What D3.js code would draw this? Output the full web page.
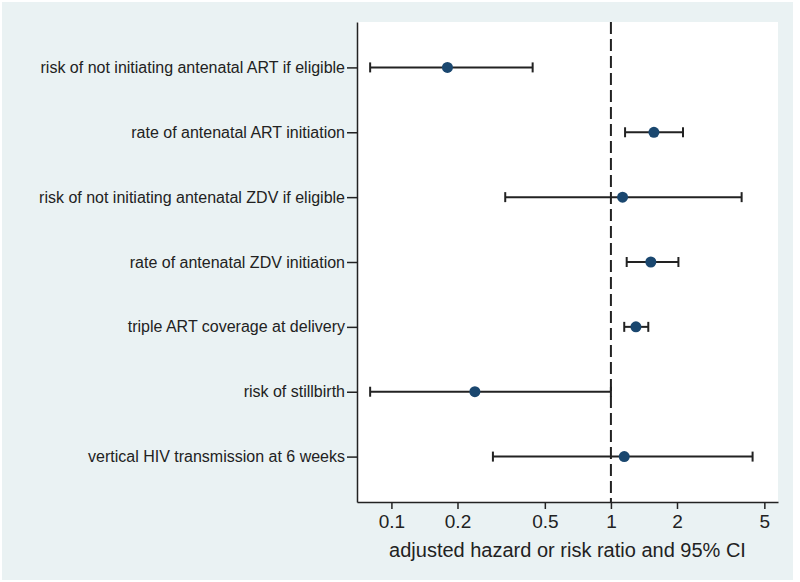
<!DOCTYPE html>
<html>
<head>
<meta charset="utf-8">
<script src="https://cdn.jsdelivr.net/npm/d3@7"></script>
<style>
  body { margin: 0; background: #fff; }
  svg { display: block; font-family: "Liberation Sans", Arial, sans-serif; }
</style>
</head>
<body>
<div id="chart"></div>
<script>
// Data
const outcomes = [
  "risk of not initiating antenatal ART if eligible",
  "rate of antenatal ART initiation",
  "risk of not initiating antenatal ZDV if eligible",
  "rate of antenatal ZDV initiation",
  "triple ART coverage at delivery",
  "risk of stillbirth",
  "vertical HIV transmission at 6 weeks"
]
const estimates = [0.18, 1.57, 1.13, 1.52, 1.30, 0.24, 1.15]
const lowerCI = [0.080, 1.16, 0.33, 1.18, 1.15, 0.080, 0.29]
const upperCI = [0.44, 2.13, 3.94, 2.03, 1.48, 1.00, 4.42]
const xTicks = [0.1, 0.2, 0.5, 1, 2, 5]
const xTitle = "adjusted hazard or risk ratio and 95% CI"

// Dimensions
const width = 800
const height = 582
const plot = {left: 357, top: 22, right: 778, bottom: 502}
const markerColor = "#1a476f"
const inkColor = "#222"

const svg = d3.select("#chart")
  .append("svg")
    .attr("width", width)
    .attr("height", height)

// Graph region background
svg.append("rect")
    .attr("x", 2)
    .attr("y", 2)
    .attr("width", 791)
    .attr("height", 578)
    .attr("fill", "#eaf2f3")

// Plot region
svg.append("rect")
    .attr("x", plot.left)
    .attr("y", plot.top)
    .attr("width", plot.right - plot.left)
    .attr("height", plot.bottom - plot.top)
    .attr("fill", "#fff")

// Scales
const xScale = d3.scaleLog()
    .domain([0.0697, 5.77])
    .range([plot.left, plot.right])

const yScale = d3.scaleLinear()
    .domain([0.3, outcomes.length + 0.7])
    .range([plot.top, plot.bottom])

const rows = outcomes.map(function(d, i) {
  return {label: d, pos: i + 1, est: estimates[i], lo: lowerCI[i], hi: upperCI[i]}
})

// Reference line at 1
svg.append("line")
    .attr("x1", xScale(1))
    .attr("x2", xScale(1))
    .attr("y1", plot.top)
    .attr("y2", plot.bottom)
    .attr("stroke", inkColor)
    .attr("stroke-width", 2)
    .attr("stroke-dasharray", "12,5")

// X-axis
const xAxis = svg.append("g")
    .attr("class", "x-axis")
    .attr("transform", `translate(0,${plot.bottom})`)
    .call(
      d3.axisBottom(xScale)
        .tickValues(xTicks)
        .tickSizeInner(7)
        .tickSizeOuter(0)
        .tickPadding(5.5)
        .tickFormat(function(d) { return String(d) }))

xAxis.select(".domain")
    .attr("stroke", inkColor)
    .attr("stroke-width", 1.5)
xAxis.selectAll(".tick line")
    .attr("stroke", inkColor)
    .attr("stroke-width", 1.5)
xAxis.selectAll(".tick text")
    .attr("fill", inkColor)
    .style("font-size", "19px")
    .style("font-family", "Liberation Sans, Arial, sans-serif")

// Y-axis
const yAxis = svg.append("g")
    .attr("class", "y-axis")
    .attr("transform", `translate(${plot.left},0)`)
    .call(
      d3.axisLeft(yScale)
        .tickValues(rows.map(function(d) { return d.pos }))
        .tickSizeInner(10)
        .tickSizeOuter(0)
        .tickPadding(2)
        .tickFormat(function(d) { return outcomes[d - 1] }))

yAxis.select(".domain")
    .attr("stroke", inkColor)
    .attr("stroke-width", 1.5)
yAxis.selectAll(".tick line")
    .attr("stroke", inkColor)
    .attr("stroke-width", 1.5)
yAxis.selectAll(".tick text")
    .attr("fill", inkColor)
    .style("font-size", "16px")
    .style("font-family", "Liberation Sans, Arial, sans-serif")

// X-axis title
svg.append("text")
    .attr("x", (plot.left + plot.right) / 2)
    .attr("y", 557)
    .attr("text-anchor", "middle")
    .attr("fill", inkColor)
    .style("font-size", "20px")
    .text(xTitle)

// Confidence interval lines
svg.selectAll(".ci")
    .data(rows)
    .enter().append("line")
    .attr("class", "ci")
    .attr("x1", function(d) { return xScale(d.lo) })
    .attr("x2", function(d) { return xScale(d.hi) })
    .attr("y1", function(d) { return yScale(d.pos) })
    .attr("y2", function(d) { return yScale(d.pos) })
    .attr("stroke", inkColor)
    .attr("stroke-width", 2)

// Caps
const capHalf = 5
svg.selectAll(".cap-lo")
    .data(rows)
    .enter().append("line")
    .attr("class", "cap-lo")
    .attr("x1", function(d) { return xScale(d.lo) })
    .attr("x2", function(d) { return xScale(d.lo) })
    .attr("y1", function(d) { return yScale(d.pos) - capHalf })
    .attr("y2", function(d) { return yScale(d.pos) + capHalf })
    .attr("stroke", inkColor)
    .attr("stroke-width", 2)

svg.selectAll(".cap-hi")
    .data(rows)
    .enter().append("line")
    .attr("class", "cap-hi")
    .attr("x1", function(d) { return xScale(d.hi) })
    .attr("x2", function(d) { return xScale(d.hi) })
    .attr("y1", function(d) { return yScale(d.pos) - capHalf })
    .attr("y2", function(d) { return yScale(d.pos) + capHalf })
    .attr("stroke", inkColor)
    .attr("stroke-width", 2)

// Point estimates
svg.selectAll(".dot")
    .data(rows)
    .enter().append("circle")
    .attr("class", "dot")
    .attr("cx", function(d) { return xScale(d.est) })
    .attr("cy", function(d) { return yScale(d.pos) })
    .attr("r", 5.5)
    .attr("fill", markerColor)
</script>
</body>
</html>
